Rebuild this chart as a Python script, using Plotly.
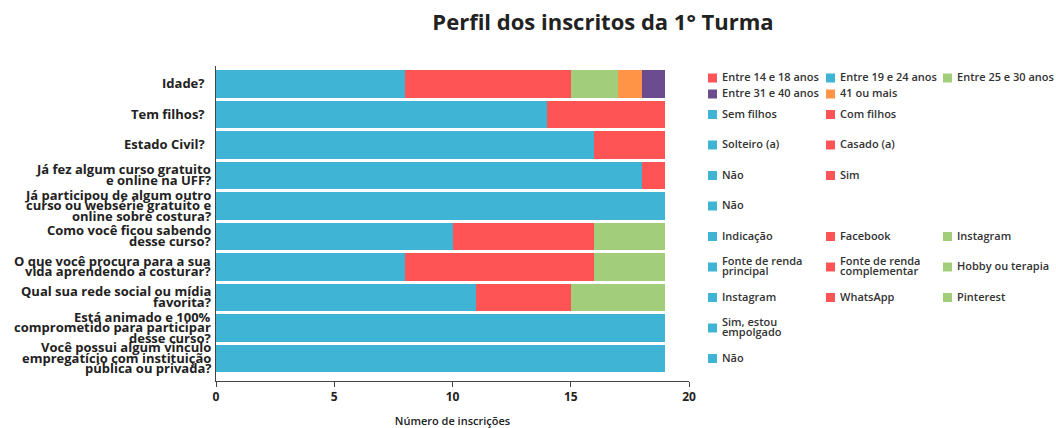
import plotly.graph_objects as go

# ---------------- data ----------------
categories = [
    "Idade?",
    "Tem filhos?",
    "Estado Civil?",
    "Já fez algum curso gratuito<br>e online na UFF?",
    "Já participou de algum outro<br>curso ou websérie gratuito e<br>online sobre costura?",
    "Como você ficou sabendo<br>desse curso?",
    "O que você procura para a sua<br>vida aprendendo a costurar?",
    "Qual sua rede social ou mídia<br>favorita?",
    "Está animado e 100%<br>comprometido para participar<br>desse curso?",
    "Você possui algum vínculo<br>empregatício com instituição<br>pública ou privada?",
]

answer_labels = [
    ["Entre 14 e 18 anos", "Entre 19 e 24 anos", "Entre 25 e 30 anos", "Entre 31 e 40 anos", "41 ou mais"],
    ["Sem filhos", "Com filhos"],
    ["Solteiro (a)", "Casado (a)"],
    ["Não", "Sim"],
    ["Não"],
    ["Indicação", "Facebook", "Instagram"],
    ["Fonte de renda<br>principal", "Fonte de renda<br>complementar", "Hobby ou terapia"],
    ["Instagram", "WhatsApp", "Pinterest"],
    ["Sim, estou<br>empolgado"],
    ["Não"],
]

answer_values = [
    [7, 8, 2, 1, 1],
    [14, 5],
    [16, 3],
    [18, 1],
    [19],
    [10, 6, 3],
    [8, 8, 3],
    [11, 4, 4],
    [19],
    [19],
]

x_ticks = [0, 5, 10, 15, 20]
x_title = "Número de inscrições"
chart_title = "Perfil dos inscritos da 1° Turma"

# ---------------- styles ----------------
PALETTE = {
    "blue": "#3FB4D5",
    "red": "#FF5456",
    "green": "#A2CE7C",
    "orange": "#FF9447",
    "purple": "#6A4C8F",
}
STACK_ORDER = ["blue", "red", "green", "orange", "purple"]

answer_colors = [
    ["red", "blue", "green", "purple", "orange"],
    ["blue", "red"],
    ["blue", "red"],
    ["blue", "red"],
    ["blue"],
    ["blue", "red", "green"],
    ["blue", "red", "green"],
    ["blue", "red", "green"],
    ["blue"],
    ["blue"],
]

W, H = 1056, 428
PLOT_LEFT, PLOT_RIGHT, PLOT_TOP, PLOT_BOTTOM = 216, 689, 66, 381
M_L = PLOT_LEFT
M_R = W - PLOT_RIGHT
M_T = PLOT_TOP
M_B = H - PLOT_BOTTOM
PLOT_W = PLOT_RIGHT - PLOT_LEFT

LEGEND_COL_PX = [708, 826, 943]   # swatch left edges (px)
SWATCH = 9
TEXT_GAP = 12
LABEL_LS = 10.5     # line spacing of wrapped labels (px)
LEG_LS = 10.5
LEG_ROW_LS = 16

FONT = "Open Sans"


def px_to_paper(px):
    return (px - PLOT_LEFT) / PLOT_W


fig = go.Figure()

for qi, q in enumerate(categories):
    order = sorted(range(len(answer_values[qi])),
                   key=lambda k: STACK_ORDER.index(answer_colors[qi][k]))
    for k in order:
        name = answer_labels[qi][k].replace("<br>", " ")
        fig.add_trace(go.Bar(
            y=[q], x=[answer_values[qi][k]], orientation="h",
            name=name, showlegend=False,
            marker=dict(color=PALETTE[answer_colors[qi][k]], line=dict(width=0)),
            hovertemplate=f"{q.replace('<br>', ' ')}<br>{name}: %{{x}}<extra></extra>",
        ))

annotations = []
shapes = []

# category labels (left), tight leading like the original
for qi, q in enumerate(categories):
    lines = q.split("<br>")
    n = len(lines)
    for j, line in enumerate(lines):
        annotations.append(dict(
            x=0, xref="paper", xanchor="right", xshift=-3 if n > 1 else -9,
            y=q, yref="y", yanchor="middle",
            yshift=((n - 1) / 2 - j) * LABEL_LS + 1,
            text=line, align="left", showarrow=False,
            font=dict(family=FONT, size=13, color="#222222", weight=700),
        ))

# per-row legends (right)
for qi, q in enumerate(categories):
    labels = answer_labels[qi]
    n_rows = (len(labels) + 2) // 3
    for k, lab in enumerate(labels):
        col = k % 3
        row = k // 3
        ys = ((n_rows - 1) / 2 - row) * LEG_ROW_LS - (n_rows - 1) * 2
        col_px = LEGEND_COL_PX[col]
        shapes.append(dict(
            type="rect", xref="paper", yref="y",
            xsizemode="pixel", ysizemode="pixel",
            xanchor=px_to_paper(col_px), yanchor=qi,
            x0=0, x1=SWATCH, y0=ys - SWATCH / 2, y1=ys + SWATCH / 2,
            fillcolor=PALETTE[answer_colors[qi][k]], line=dict(width=0),
        ))
        parts = lab.split("<br>")
        m = len(parts)
        for j, part in enumerate(parts):
            annotations.append(dict(
                x=px_to_paper(col_px + TEXT_GAP), xref="paper", xanchor="left",
                y=q, yref="y", yanchor="middle",
                yshift=ys + ((m - 1) / 2 - j) * LEG_LS + 1.5,
                text=part, align="left", showarrow=False,
                font=dict(family=FONT, size=11, color="#333333", weight=600),
            ))

fig.update_layout(
    width=W, height=H,
    margin=dict(l=M_L, r=M_R, t=M_T, b=M_B, autoexpand=False),
    paper_bgcolor="white", plot_bgcolor="white",
    barmode="stack", bargap=0.11,
    showlegend=False,
    title=dict(
        text=chart_title,
        x=603 / W, xref="container", xanchor="center",
        y=1 - 22 / H, yref="container", yanchor="middle",
        font=dict(family=FONT, size=22, color="#222222", weight=700),
    ),
    xaxis=dict(
        range=[0, 20], tickvals=x_ticks, ticks="outside", ticklen=5,
        tickcolor="#444444", showline=True, linecolor="#444444", linewidth=1,
        showgrid=False, zeroline=False,
        tickfont=dict(family=FONT, size=12, color="#222222", weight=700),
        title=dict(text=x_title, standoff=14,
                   font=dict(family=FONT, size=11, color="#222222", weight=600)),
    ),
    yaxis=dict(
        categoryorder="array", categoryarray=categories, autorange="reversed",
        showticklabels=False, ticks="", showline=True, linecolor="#444444",
        linewidth=1, showgrid=False, zeroline=False,
    ),
    annotations=annotations,
    shapes=shapes,
    hoverlabel=dict(font=dict(family=FONT)),
)

# remove the default page margin so the figure fills the window exactly
fig.write_html(
    "out.html",
    config={"displayModeBar": False},
    post_script="document.body.style.margin='0';document.body.style.overflow='hidden';",
)
